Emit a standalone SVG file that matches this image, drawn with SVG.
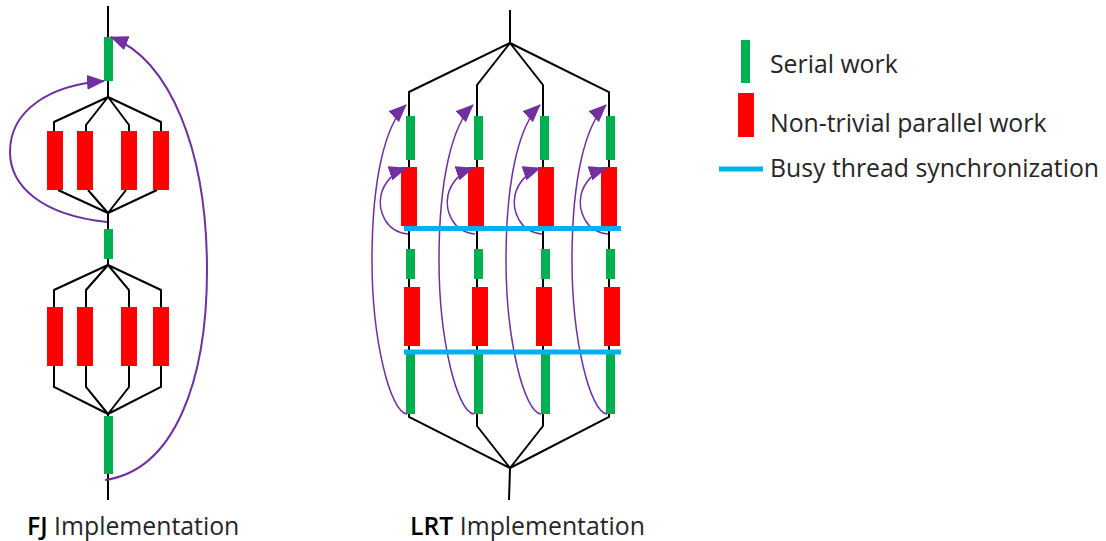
<svg xmlns="http://www.w3.org/2000/svg" width="1106" height="541" viewBox="0 0 1106 541">
<defs>
<style>
.ln{fill:none;stroke:#000;stroke-width:2;stroke-linejoin:miter}
.ser{fill:#00B050}
.par{fill:#FF0000}
.sync{stroke:#00B0F0;stroke-width:5;fill:none}
.arc{fill:none;stroke:#7030A0;stroke-width:2;marker-end:url(#ah)}
.arc2{fill:none;stroke:#7030A0;stroke-width:1.5;marker-end:url(#ah)}
.txt{font-family:"Open Sans","Liberation Sans",sans-serif;font-size:24.8px;fill:#262626;font-weight:400}
.b{font-weight:600;fill:#000}
</style>
<marker id="ah" markerUnits="userSpaceOnUse" markerWidth="18" markerHeight="15" refX="17" refY="7.5" orient="auto" viewBox="0 0 18 15">
<path d="M0,0 L18,7.5 L0,15 z" fill="#7030A0"/>
</marker>
</defs>
<rect width="1106" height="541" fill="#fff"/>

<g id="connectors">
<path class="ln" d="M108,6 V97 M108,97 L54,122 V131 M108,97 L86,125 V131 M108,97 L129,125 V131 M108,97 L161,122 V131"/>
<path class="ln" d="M58,190 L108,213 M88,190 L108,213 M126,190 L108,213 M157,190 L108,213 M108,213 V265"/>
<path class="ln" d="M108,265 L54,290 V307 M108,265 L86,290 V307 M108,265 L129,290 V307 M108,265 L161,290 V307"/>
<path class="ln" d="M54,366 V387 L108,414 M86,366 V387 L108,414 M129,366 V387 L108,414 M161,366 V387 L108,414 M108,414 V500"/>
<path class="ln" d="M510,10 V43 M510,43 L409,92 V417 L510,468 M510,43 L477,85 V426 L510,468 M510,43 L543,85 V426 L510,468 M510,43 L609,92 V417 L510,468 M510,468 L509,500"/>
</g>

<g id="fj-serial-1"><rect class="ser" x="104" y="37" width="9" height="44"/></g>
<g id="fj-parallel-1">
<rect class="par" x="47" y="131" width="16" height="59"/>
<rect class="par" x="77" y="131" width="16" height="59"/>
<rect class="par" x="121" y="131" width="16" height="59"/>
<rect class="par" x="153" y="131" width="16" height="59"/>
</g>
<g id="fj-serial-2"><rect class="ser" x="104" y="229" width="9" height="30"/></g>
<g id="fj-parallel-2">
<rect class="par" x="47" y="307" width="16" height="59"/>
<rect class="par" x="77" y="307" width="16" height="59"/>
<rect class="par" x="121" y="307" width="16" height="59"/>
<rect class="par" x="153" y="307" width="16" height="59"/>
</g>
<g id="fj-serial-3"><rect class="ser" x="104" y="416" width="9" height="58"/></g>

<g id="lrt-col1">
<rect class="ser" x="406" y="116" width="9" height="44"/>
<rect class="par" x="401" y="167" width="16" height="59"/>
<rect class="ser" x="406" y="249" width="9" height="30"/>
<rect class="par" x="404" y="287" width="16" height="59"/>
<rect class="ser" x="406" y="354" width="9" height="60"/>
</g>
<g id="lrt-col2">
<rect class="ser" x="474" y="116" width="9" height="44"/>
<rect class="par" x="468" y="167" width="16" height="59"/>
<rect class="ser" x="474" y="249" width="9" height="30"/>
<rect class="par" x="472" y="287" width="16" height="59"/>
<rect class="ser" x="474" y="354" width="9" height="60"/>
</g>
<g id="lrt-col3">
<rect class="ser" x="540" y="116" width="9" height="44"/>
<rect class="par" x="538" y="167" width="16" height="59"/>
<rect class="ser" x="541" y="249" width="9" height="30"/>
<rect class="par" x="536" y="287" width="16" height="59"/>
<rect class="ser" x="541" y="354" width="9" height="60"/>
</g>
<g id="lrt-col4">
<rect class="ser" x="606" y="116" width="9" height="44"/>
<rect class="par" x="601" y="167" width="16" height="59"/>
<rect class="ser" x="606" y="249" width="9" height="30"/>
<rect class="par" x="604" y="287" width="16" height="59"/>
<rect class="ser" x="606" y="354" width="9" height="60"/>
</g>

<g id="loops">
<path class="arc" d="M107,222 C40,215 10,185 10,152 C10,110 50,85 104,81"/>
<path class="arc" d="M105,480 C175,470 207,380 207,270 C207,150 170,60 111,37"/>
<g id="lrt-loops-1">
<path class="arc2" d="M407,414 C390,412 372,340 372,260 C372,180 385,125 406,105"/>
<path class="arc2" d="M408,234 C385,232 378,210 381,195 C384,182 394,172 406,168"/>
</g>
<g id="lrt-loops-2" transform="translate(67,0)">
<path class="arc2" d="M407,414 C390,412 372,340 372,260 C372,180 385,125 406,105"/>
<path class="arc2" d="M408,234 C385,232 378,210 381,195 C384,182 394,172 406,168"/>
</g>
<g id="lrt-loops-3" transform="translate(134,0)">
<path class="arc2" d="M407,414 C390,412 372,340 372,260 C372,180 385,125 406,105"/>
<path class="arc2" d="M408,234 C385,232 378,210 381,195 C384,182 394,172 406,168"/>
</g>
<g id="lrt-loops-4" transform="translate(200,0)">
<path class="arc2" d="M407,414 C390,412 372,340 372,260 C372,180 385,125 406,105"/>
<path class="arc2" d="M408,234 C385,232 378,210 381,195 C384,182 394,172 406,168"/>
</g>
</g>

<g id="sync-1"><line class="sync" x1="404" y1="228.5" x2="621" y2="228.5"/></g>
<g id="sync-2"><line class="sync" x1="404" y1="352" x2="621" y2="352"/></g>

<g id="legend">
<rect class="ser" x="741" y="40" width="9" height="43"/>
<text class="txt" x="770" y="73">Serial work</text>
<rect class="par" x="738" y="93" width="16" height="44"/>
<text class="txt" x="770" y="132">Non-trivial parallel work</text>
<line class="sync" x1="719" y1="169" x2="763" y2="169"/>
<text class="txt" x="770" y="177">Busy thread synchronization</text>
</g>

<g id="labels">
<text class="txt" x="27" y="535"><tspan class="b">FJ</tspan> Implementation</text>
<text class="txt" x="410" y="535"><tspan class="b">LRT</tspan> Implementation</text>
</g>
</svg>
